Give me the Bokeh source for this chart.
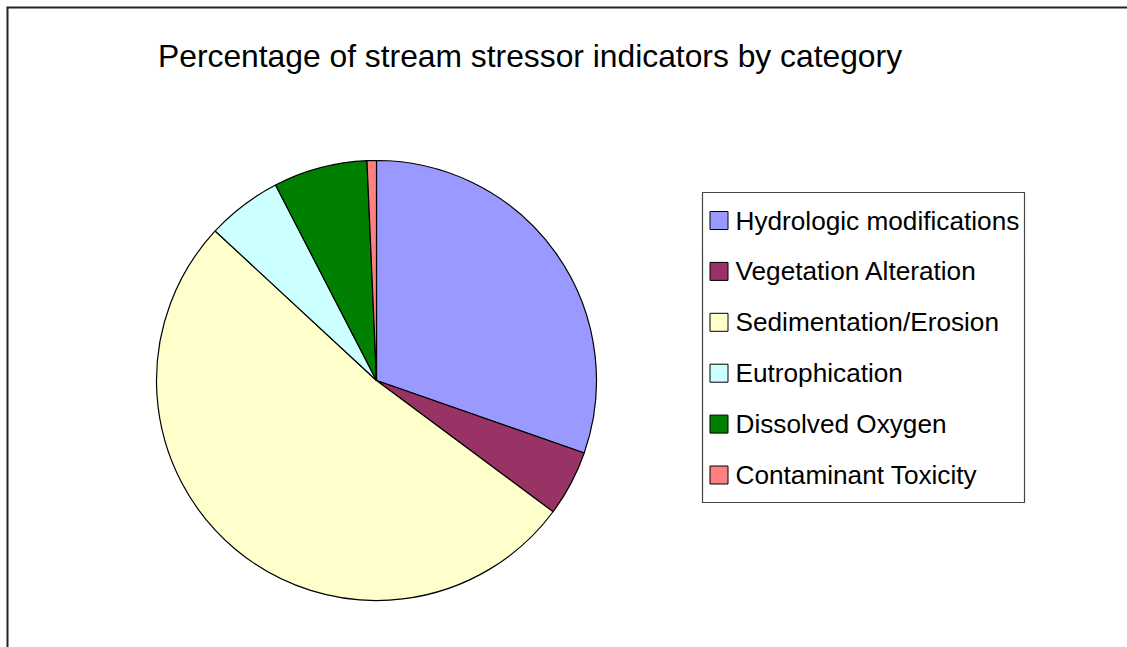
import math
from bokeh.plotting import figure
from bokeh.models import Range1d, ColumnDataSource
from bokeh.core.properties import value
from bokeh.embed import file_html
from bokeh.resources import INLINE

# Data
categories = ["Hydrologic modifications", "Vegetation Alteration", "Sedimentation/Erosion",
              "Eutrophication", "Dissolved Oxygen", "Contaminant Toxicity"]
counts = [44, 7, 75, 8, 10, 1]
colors = ["#9999FF", "#993366", "#FFFFCC", "#CCFFFF", "#008000", "#FF8080"]
title_text = "Percentage of stream stressor indicators by category"

W, H = 1127, 647
p = figure(width=W, height=H, output_backend="svg", toolbar_location=None,
           x_range=Range1d(0, W), y_range=Range1d(0, H), min_border=0)
p.axis.visible = False
p.grid.visible = False
p.outline_line_color = None
p.background_fill_color = "white"
p.border_fill_color = "white"

# helper: screen px -> data
def sx(x):
    return x
def sy(y):
    return H - y

# chart border (left and top visible)
p.segment(x0=[sx(7), sx(6)], y0=[sy(H), sy(7)], x1=[sx(7), sx(W)], y1=[sy(7), sy(7)],
          line_color="#222222", line_width=2)

# title
p.text(x=[sx(157.5)], y=[sy(55)], text=[title_text], text_font=value("Liberation Sans"),
       text_font_size="31.8px", text_color="black", text_baseline="middle", text_align="left")

# pie
total = sum(counts)
starts, ends = [], []
cum = 0
for c in counts:
    starts.append(math.pi / 2 - 2 * math.pi * cum / total)
    cum += c
    ends.append(math.pi / 2 - 2 * math.pi * cum / total)
src = ColumnDataSource(dict(start=starts, end=ends, color=colors, cat=categories))
p.wedge(x=sx(376), y=sy(380), radius=220, start_angle="start", end_angle="end",
        direction="clock", fill_color="color", line_color="black", line_width=1.2, source=src)

# legend box
p.quad(left=[sx(702)], right=[sx(1024)], top=[sy(192)], bottom=[sy(502)],
       fill_color="white", line_color="#444444", line_width=1.2)
row_y = [sy(220 + 50.9 * i) for i in range(len(categories))]
lsrc = ColumnDataSource(dict(y=row_y, x=[sx(718.5)] * len(categories),
                             tx=[sx(735)] * len(categories), color=colors, cat=categories))
p.rect(x="x", y="y", width=18, height=18, fill_color="color", line_color="black",
       line_width=1, source=lsrc)
p.text(x="tx", y="y", text="cat", text_font=value("Liberation Sans"), text_font_size="26.2px",
       text_color="black", text_baseline="middle", text_align="left", source=lsrc)

open("out.html", "w").write(file_html(p, INLINE))
